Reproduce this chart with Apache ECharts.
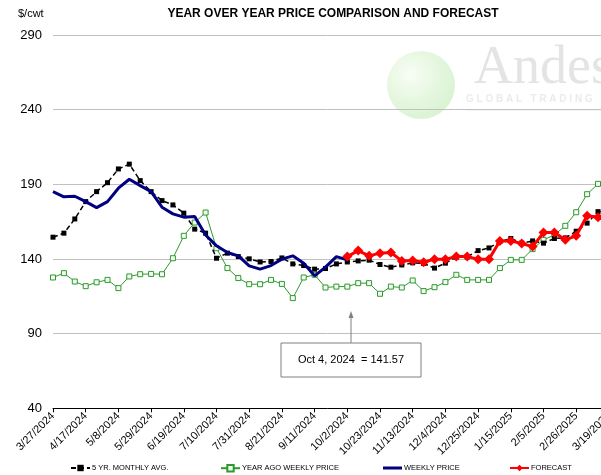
<!DOCTYPE html>
<html><head><meta charset="utf-8">
<script src="https://cdn.jsdelivr.net/npm/echarts@6/dist/echarts.min.js"></script>
<style>html,body{margin:0;padding:0;background:#fff}#c{width:601px;height:475px}</style>
</head><body><div id="c"></div>
<script>
const categories = ['3/27/2024','4/3/2024','4/10/2024','4/17/2024','4/24/2024','5/1/2024','5/8/2024','5/15/2024','5/22/2024','5/29/2024','6/5/2024','6/12/2024','6/19/2024','6/26/2024','7/3/2024','7/10/2024','7/17/2024','7/24/2024','7/31/2024','8/7/2024','8/14/2024','8/21/2024','8/28/2024','9/4/2024','9/11/2024','9/18/2024','9/25/2024','10/2/2024','10/9/2024','10/16/2024','10/23/2024','10/30/2024','11/6/2024','11/13/2024','11/20/2024','11/27/2024','12/4/2024','12/11/2024','12/18/2024','12/25/2024','1/1/2025','1/8/2025','1/15/2025','1/22/2025','1/29/2025','2/5/2025','2/12/2025','2/19/2025','2/26/2025','3/5/2025','3/12/2025','3/19/2025','3/26/2025'];
const fiveYrAvg = [154.6,157.3,166.8,178.4,185.1,191.1,200.3,203.5,192.5,185.1,179.1,176.2,170.7,160.0,157.3,140.5,143.9,141.6,140.1,138.0,138.3,140.7,136.7,135.6,133.2,133.6,136.7,138.0,138.7,139.2,136.3,134.5,136.0,137.4,137.0,133.9,137.2,141.2,141.4,145.6,147.4,151.7,153.7,150.6,152.1,150.6,153.7,154.1,158.6,164.0,171.7,172.0];
const yearAgo = [127.6,130.5,124.9,121.8,124.4,126.0,120.5,128.3,129.8,130.0,129.8,140.5,155.5,164.4,171.1,147.2,133.9,127.2,123.1,123.1,126.0,123.3,113.8,127.6,129.4,120.9,121.5,121.5,123.8,123.8,116.7,121.5,120.9,125.6,118.5,121.1,124.5,129.4,126.0,126.0,126.0,133.9,139.4,139.4,146.6,152.8,156.1,162.2,171.3,183.4,190.3,195.0];
const weekly = [185.1,181.6,182.0,178.4,174.4,178.4,187.4,193.4,189.1,185.1,174.7,170.2,168.0,168.4,156.1,148.8,144.3,142.1,135.4,133.2,135.6,139.9,142.1,137.2,128.7,134.5,141.6,139.4];
const forecast = [null,null,null,null,null,null,null,null,null,null,null,null,null,null,null,null,null,null,null,null,null,null,null,null,null,null,null,141.6,145.6,142.1,143.9,144.3,138.7,138.9,137.8,139.9,139.9,141.6,141.6,139.9,139.9,152.1,152.1,150.4,148.3,157.7,157.7,152.8,155.5,168.9,168.0,170.0];
const yTicks = {min:40, max:290, step:50};
const seriesNames = ['5 YR. MONTHLY AVG.','YEAR AGO WEEKLY PRICE','WEEKLY PRICE','FORECAST'];

const chart = echarts.init(document.getElementById('c'), null, {renderer:'canvas'});
const sans = "'Liberation Sans',Arial,sans-serif";
function leg(item, left){
  return {data:[item], left:left, top:464, padding:0, itemWidth:19, itemHeight:8, itemGap:0,
    textStyle:{fontSize:7.5, fontFamily:sans, color:'#000', padding:[0,0,0,-3]}};
}
chart.setOption({
  animation:false,
  backgroundColor:'#fff',
  grid:{left:53, top:35, width:566.8, height:373.3, containLabel:false, outerBoundsMode:'none'},
  title:{text:'YEAR OVER YEAR PRICE COMPARISON AND FORECAST', left:333, top:8, textAlign:'center', padding:0,
    textStyle:{fontSize:12, fontWeight:'bold', color:'#000', fontFamily:sans}},
  legend:[leg(seriesNames[0],70), leg(seriesNames[1],220),
          leg({name:seriesNames[2], icon:'path://M0,3.5L19,3.5L19,6.5L0,6.5Z'},383), leg(seriesNames[3],509)],
  xAxis:{type:'category', data:categories, boundaryGap:false,
    axisLine:{lineStyle:{color:'#000', width:1}},
    axisTick:{interval:2, length:4, lineStyle:{color:'#000'}},
    axisLabel:{interval:2, rotate:45, fontSize:11, color:'#000', margin:6, fontFamily:sans},
    splitLine:{show:false}},
  yAxis:{type:'value', min:yTicks.min, max:yTicks.max, interval:yTicks.step,
    axisLine:{show:false}, axisTick:{show:false},
    axisLabel:{fontSize:13, color:'#000', margin:11, fontFamily:sans},
    splitLine:{lineStyle:{color:'#c0c0c0', width:1}}},
  graphic:[
    {type:'text', left:18, top:8, style:{text:'$/cwt', fontSize:11, fill:'#000', fontFamily:sans}},
    {type:'circle', shape:{cx:421, cy:85, r:34}, z:0, style:{fill:new echarts.graphic.RadialGradient(0.35,0.35,0.8,[{offset:0,color:'rgba(248,253,244,0.9)'},{offset:1,color:'rgba(200,238,190,0.75)'}])}},
    {type:'text', left:474, top:42, z:0, style:{text:'Andes', fontSize:54, fill:'#e4e4e4', fontFamily:"'Liberation Serif',serif"}},
    {type:'text', left:466, top:94, z:0, style:{text:'G L O B A L   T R A D I N G', fontSize:10, fontWeight:'bold', fill:'#ebebeb', fontFamily:sans}},
    {type:'line', shape:{x1:466, y1:110, x2:601, y2:110}, z:0, style:{stroke:'#eeeeee', lineWidth:1}},
    {type:'line', shape:{x1:351, y1:343, x2:351, y2:314}, z:5, style:{stroke:'#808080', lineWidth:1}},
    {type:'polygon', shape:{points:[[348.5,318],[351,311],[353.5,318]]}, z:5, style:{fill:'#808080'}},
    {type:'rect', shape:{x:281, y:343, width:140, height:34}, z:5, style:{fill:'#fff', stroke:'#808080', lineWidth:1}},
    {type:'text', x:351, y:360, z:6, style:{text:'Oct 4, 2024  = 141.57', fontSize:11, fill:'#000', align:'center', verticalAlign:'middle', fontFamily:sans}}
  ],
  series:[
    {name:seriesNames[0], type:'line', data:fiveYrAvg, symbol:'rect', symbolSize:5, showAllSymbol:true, z:3,
      lineStyle:{color:'#000', width:1.5, type:[5,3]}, itemStyle:{color:'#000'}},
    {name:seriesNames[1], type:'line', data:yearAgo, symbol:'rect', symbolSize:5, showAllSymbol:true, z:2,
      lineStyle:{color:'#2e9a2e', width:1}, itemStyle:{color:'#f4fbf4', borderColor:'#2e9a2e', borderWidth:1}},
    {name:seriesNames[2], type:'line', data:weekly, symbol:'none', z:4,
      lineStyle:{color:'#000080', width:3}, itemStyle:{color:'#000080'}},
    {name:seriesNames[3], type:'line', data:forecast, symbol:'diamond', symbolSize:10, showAllSymbol:true, z:5,
      lineStyle:{color:'#ff0000', width:3}, itemStyle:{color:'#ff0000'}}
  ]
});
</script></body></html>
